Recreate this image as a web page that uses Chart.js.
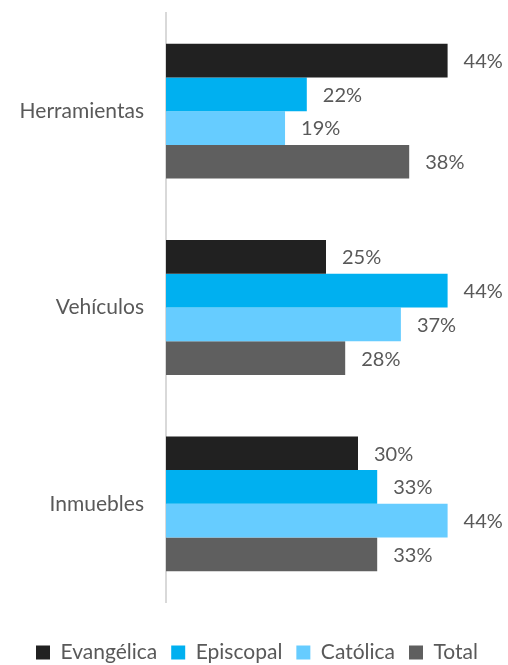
<!DOCTYPE html>
<html>
<head>
<meta charset="utf-8">
<script src="https://cdn.jsdelivr.net/npm/chart.js@4"></script>
<style>
html,body{margin:0;padding:0;background:#fff;}
#wrap{width:508px;height:665px;}
</style>
</head>
<body>
<div id="wrap"><canvas id="c" width="508" height="665"></canvas></div>
<script>
const categories = ["Herramientas", "Vehículos", "Inmuebles"];
const evangelica = [44, 25, 30];
const episcopal = [22, 44, 33];
const catolica = [18.6, 36.7, 44];
const total = [38, 28, 33];
const seriesNames = ["Evangélica", "Episcopal", "Católica", "Total"];

const FONT = "Lato, 'Open Sans', sans-serif";
const TXT = "#595959";

const labelPlugin = {
  id: "barLabels",
  afterLayout(chart) {
    if (chart.legend) { chart.legend.left += 14; chart.legend.right += 14; }
  },
  afterDatasetsDraw(chart) {
    const ctx = chart.ctx;
    ctx.save();
    ctx.font = "20px " + FONT;
    ctx.fillStyle = TXT;
    ctx.textAlign = "left";
    ctx.textBaseline = "middle";
    chart.data.datasets.forEach((ds, i) => {
      const meta = chart.getDatasetMeta(i);
      meta.data.forEach((el, j) => {
        ctx.fillText(Math.round(ds.data[j]) + "%", el.x + 16, el.y + 1);
      });
    });
    ctx.restore();
  }
};

new Chart(document.getElementById("c"), {
  type: "bar",
  data: {
    labels: categories,
    datasets: [
      { label: seriesNames[0], data: evangelica, backgroundColor: "#212121" },
      { label: seriesNames[1], data: episcopal, backgroundColor: "#00B0F0" },
      { label: seriesNames[2], data: catolica, backgroundColor: "#66CCFF" },
      { label: seriesNames[3], data: total, backgroundColor: "#5F5F5F" }
    ]
  },
  options: {
    indexAxis: "y",
    responsive: false,
    animation: false,
    devicePixelRatio: 1,
    datasets: { bar: { categoryPercentage: 0.687, barPercentage: 1.0 } },
    layout: { padding: { left: 0, right: 22, top: 13, bottom: -8 } },
    scales: {
      x: {
        display: true, min: 0, max: 50,
        grid: { display: false },
        border: { display: false },
        ticks: { display: false },
        afterFit(scale) { scale.height = 26; scale.paddingLeft = 0; scale.paddingRight = 0; }
      },
      y: {
        grid: { display: false },
        border: { display: true, color: "#D9D9D9", width: 2 },
        ticks: { color: TXT, font: { family: FONT, size: 21 }, padding: 14 },
        afterFit(scale) { scale.width = 166; scale.paddingTop = 0; scale.paddingBottom = 0; }
      }
    },
    plugins: {
      legend: {
        position: "bottom",
        labels: {
          color: TXT,
          font: { family: FONT, size: 21 },
          boxWidth: 14,
          boxHeight: 14,
          padding: 14
        }
      },
      tooltip: { enabled: false }
    }
  },
  plugins: [labelPlugin]
});
</script>
</body>
</html>
